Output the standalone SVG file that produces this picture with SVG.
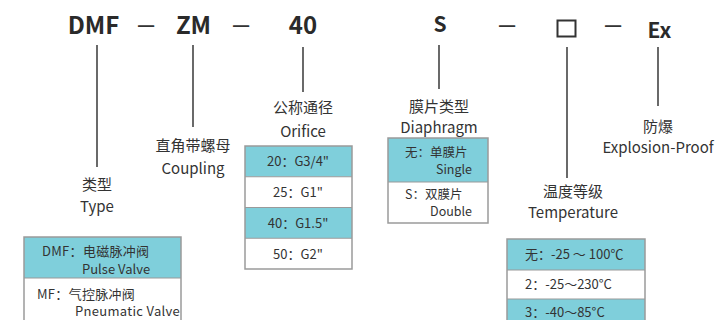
<svg xmlns="http://www.w3.org/2000/svg" width="716" height="320" viewBox="0 0 716 320">
<style>
text{font-family:"Noto Sans CJK SC","Noto Sans",sans-serif;fill:#333;}
.h{font-weight:bold;font-size:24px;fill:#2a2a2a;text-anchor:middle;}
.d{font-size:20px;font-weight:bold;fill:#333;text-anchor:middle;}
.l{font-size:15px;text-anchor:middle;}
.t{font-size:13px;}
.c{text-anchor:middle;}
.e{text-anchor:end;}
.cy{fill:#7fcfdb;}
.wh{fill:#ffffff;}
.bx{fill:none;stroke:#9a9a9a;stroke-width:1.5;}
.sep{stroke:#9a9a9a;stroke-width:1.2;}
.cn line{stroke:#444;stroke-width:1.6;}
</style>
<rect width="716" height="320" fill="#fff"/>
<g id="header">
<text class="h" x="93.5" y="34">DMF</text>
<text class="d" x="146" y="32">—</text>
<text class="h" x="193.5" y="34">ZM</text>
<text class="d" x="241" y="32">—</text>
<text class="h" x="303" y="34">40</text>
<text class="h" x="440" y="32" style="font-size:21px">S</text>
<text class="d" x="507" y="32">—</text>
<rect x="557.5" y="20.5" width="18" height="16" fill="none" stroke="#333" stroke-width="2"/>
<text class="d" x="613" y="32">—</text>
<text class="h" x="659.5" y="38" style="font-size:21px">Ex</text>
</g>
<g id="connectors" class="cn">
<line x1="97" y1="45" x2="97" y2="167"/>
<line x1="193" y1="45" x2="193" y2="127"/>
<line x1="303" y1="47" x2="303" y2="92"/>
<line x1="439" y1="45" x2="439" y2="89"/>
<line x1="567" y1="47" x2="567" y2="178"/>
<line x1="658" y1="47" x2="658" y2="106"/>
</g>
<g id="type">
<text class="l" x="97" y="190">类型</text>
<text class="l" x="97" y="212">Type</text>
<rect class="cy" x="24" y="237" width="157" height="41"/>
<rect class="wh" x="24" y="278" width="157" height="47"/>
<line class="sep" x1="24" y1="278" x2="181" y2="278"/>
<rect class="bx" x="24" y="237" width="157" height="88"/>
<text class="t" x="42" y="256" style="letter-spacing:0.3px">DMF：电磁脉冲阀</text>
<text class="t" x="82" y="274">Pulse Valve</text>
<text class="t" x="37" y="299" style="letter-spacing:0.3px">MF：气控脉冲阀</text>
<text class="t" x="75" y="316" style="letter-spacing:0.3px">Pneumatic Valve</text>
</g>
<g id="coupling">
<text class="l" x="193" y="151">直角带螺母</text>
<text class="l" x="193" y="174">Coupling</text>
</g>
<g id="orifice">
<text class="l" x="303" y="113">公称通径</text>
<text class="l" x="303" y="137">Orifice</text>
<rect class="cy" x="245" y="146" width="107" height="30.75"/>
<rect class="wh" x="245" y="176.75" width="107" height="30.75"/>
<rect class="cy" x="245" y="207.5" width="107" height="30.75"/>
<rect class="wh" x="245" y="238.25" width="107" height="30.75"/>
<line class="sep" x1="245" y1="176.75" x2="352" y2="176.75"/>
<line class="sep" x1="245" y1="207.5" x2="352" y2="207.5"/>
<line class="sep" x1="245" y1="238.25" x2="352" y2="238.25"/>
<rect class="bx" x="245" y="146" width="107" height="123"/>
<text class="t c" x="298" y="166">20：G3/4"</text>
<text class="t c" x="298" y="197">25：G1"</text>
<text class="t c" x="298" y="227.5">40：G1.5"</text>
<text class="t c" x="298" y="258.5">50：G2"</text>
</g>
<g id="diaphragm">
<text class="l" x="439" y="112">膜片类型</text>
<text class="l" x="439" y="133">Diaphragm</text>
<rect class="cy" x="388" y="138" width="100" height="44"/>
<rect class="wh" x="388" y="182" width="100" height="41"/>
<line class="sep" x1="388" y1="182" x2="488" y2="182"/>
<rect class="bx" x="388" y="138" width="100" height="85"/>
<text class="t" x="405" y="157" style="font-size:12.5px">无：单膜片</text>
<text class="t e" x="472" y="174" style="font-size:12.5px">Single</text>
<text class="t" x="405" y="199" style="font-size:12.5px">S：双膜片</text>
<text class="t e" x="472" y="216" style="font-size:12.5px">Double</text>
</g>
<g id="temperature">
<text class="l" x="573" y="197">温度等级</text>
<text class="l" x="573" y="218">Temperature</text>
<rect class="cy" x="507" y="239" width="138" height="31"/>
<rect class="wh" x="507" y="270" width="138" height="29"/>
<rect class="cy" x="507" y="299" width="138" height="31"/>
<line class="sep" x1="507" y1="270" x2="645" y2="270"/>
<line class="sep" x1="507" y1="299" x2="645" y2="299"/>
<rect class="bx" x="507" y="239" width="138" height="91"/>
<text class="t" x="525" y="259">无：-25 ～ 100℃</text>
<text class="t" x="525" y="289">2：-25～230°C</text>
<text class="t" x="525" y="317">3：-40～85°C</text>
</g>
<g id="explosion">
<text class="l" x="658" y="132">防爆</text>
<text class="l" x="658" y="153">Explosion-Proof</text>
</g>
</svg>
